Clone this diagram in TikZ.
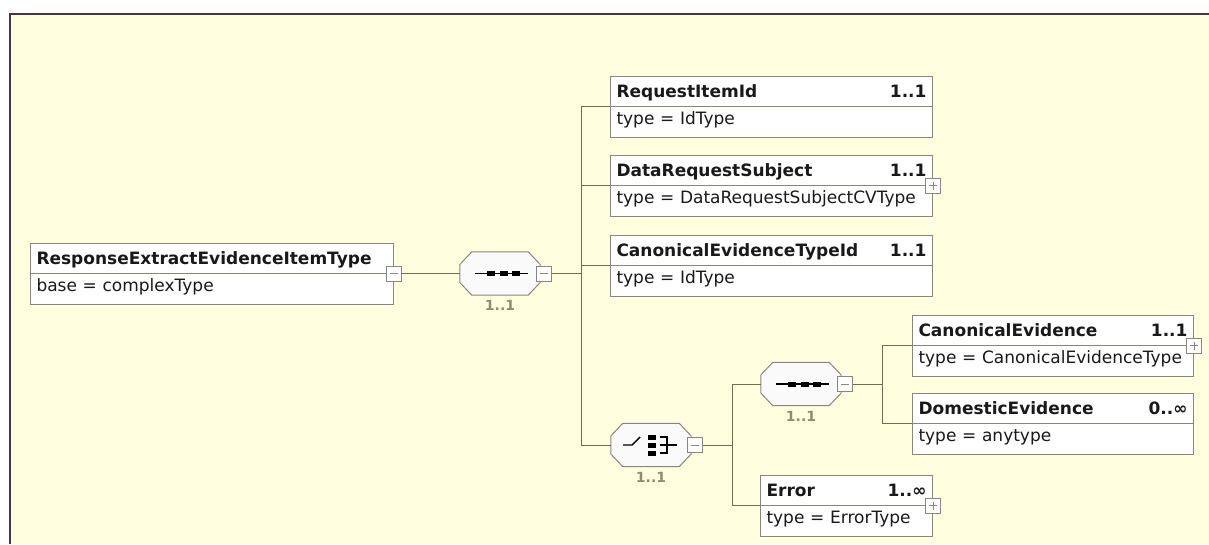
\documentclass[tikz,border=0pt]{standalone}
\usepackage{fontspec}
\setmainfont{DejaVu Sans}
\usetikzlibrary{positioning,shapes.multipart,calc}

\definecolor{bgyel}{RGB}{255,255,224}
\definecolor{framec}{RGB}{72,52,72}
\definecolor{boxline}{RGB}{135,135,125}
\definecolor{connc}{RGB}{110,110,85}
\definecolor{multc}{RGB}{140,140,112}
\definecolor{inkc}{RGB}{25,25,25}

\newcommand{\hdr}[2]{\makebox[\linewidth][l]{\rule[-9pt]{0pt}{29pt}\bfseries #1\hfill #2}}
\newcommand{\typ}[1]{\rule[-13pt]{0pt}{30pt}#1}

\begin{document}
\begin{tikzpicture}[x=1pt, y=-1pt,
    elem/.style={rectangle split, rectangle split parts=2, draw=boxline,
      fill=white, line width=1pt, inner xsep=6pt, inner ysep=0pt,
      anchor=north west, align=left, text=inkc,
      font=\fontsize{17}{19}\selectfont},
    octa/.style={minimum width=80pt, minimum height=43pt, inner sep=0pt},
    octline/.style={draw=boxline, fill=white!96!gray, line width=1pt},
    btn/.style={draw=boxline, fill=white, line width=1pt, minimum size=15pt,
      inner sep=0pt},
    minusbtn/.style={btn, path picture={
      \draw[boxline, line width=1pt] ([xshift=-4pt]path picture bounding box.center)
        -- ([xshift=4pt]path picture bounding box.center);}},
    plusbtn/.style={btn, path picture={
      \draw[boxline, line width=1pt] ([xshift=-4pt]path picture bounding box.center)
        -- ([xshift=4pt]path picture bounding box.center)
        ([yshift=-4pt]path picture bounding box.center)
        -- ([yshift=4pt]path picture bounding box.center);}},
    mult/.style={text=multc, font=\fontsize{14}{16}\selectfont\bfseries, inner sep=1pt},
    conn/.style={draw=connc, line width=1pt},
    icon/.style={line width=1.4pt, draw=black}
  ]
  \useasboundingbox (0,0) rectangle (1209,544);
  % panel
  \fill[bgyel] (10,14) rectangle (1209,544);
  \draw[framec, line width=2.5pt] (10,544) -- (10,14) -- (1209,14);

  % element boxes
  \node[elem, text width=351pt] (root) at (30,243)
    {\hdr{ResponseExtractEvidenceItemType}{}\nodepart{two}\typ{base = complexType}};
  \node[elem, text width=310pt] (rid) at (610,76)
    {\hdr{RequestItemId}{1..1}\nodepart{two}\typ{type = IdType}};
  \node[elem, text width=310pt] (drs) at (610,155)
    {\hdr{DataRequestSubject}{1..1}\nodepart{two}\typ{type = DataRequestSubjectCVType}};
  \node[elem, text width=310pt] (cetid) at (610,235)
    {\hdr{CanonicalEvidenceTypeId}{1..1}\nodepart{two}\typ{type = IdType}};
  \node[elem, text width=269pt] (canev) at (912,315)
    {\hdr{CanonicalEvidence}{1..1}\nodepart{two}\typ{type = CanonicalEvidenceType}};
  \node[elem, text width=269pt] (domev) at (912,393)
    {\hdr{DomesticEvidence}{0..∞}\nodepart{two}\typ{type = anytype}};
  \node[elem, text width=160pt] (err) at (760,475)
    {\hdr{Error}{1..∞}\nodepart{two}\typ{type = ErrorType}};

  % compositors
  \node[octa] (seqA) at ($(root.text split east)+(106,0)$) {};
  \node[octa] (choA) at (651,445) {};
  \node[octa] (seqB) at (801,384) {};
  \foreach \s in {seqA,choA,seqB}
    \draw[octline] ($(\s.north west)+(12,0)$) -- ($(\s.north east)+(-12,0)$)
      -- ($(\s.east)+(0,-9)$) -- ($(\s.east)+(0,9)$)
      -- ($(\s.south east)+(-12,0)$) -- ($(\s.south west)+(12,0)$)
      -- ($(\s.west)+(0,9)$) -- ($(\s.west)+(0,-9)$) -- cycle;
  \node[mult, below=4pt of seqA] (seqAmult) {1..1};
  \node[mult, below=4pt of choA] (choAmult) {1..1};
  \node[mult, below=4pt of seqB] (seqBmult) {1..1};

  % buttons
  \node[minusbtn] (rootbtn) at (root.text split east) {};
  \node[plusbtn] (drsbtn) at (drs.text split east) {};
  \node[plusbtn] (canevbtn) at (canev.text split east) {};
  \node[plusbtn] (errbtn) at (err.text split east) {};
  \node[minusbtn, right=-4pt of seqA] (seqAbtn) {};
  \node[minusbtn, right=-4pt of choA] (choAbtn) {};
  \node[minusbtn, right=-4pt of seqB] (seqBbtn) {};

  % icons
  \foreach \s in {seqA,seqB}{
    \begin{scope}[shift={(\s.center)}]
      \draw[icon] (-25,0) -- (28,0);
      \foreach \dx in {-9,3.5,16}
        \fill (\dx-4,-2.5) rectangle (\dx+4,2.5);
    \end{scope}
  }
  \begin{scope}[shift={(choA.center)}]
    \draw[icon] (-28,0) -- (-19,0) -- (-11,-8);
    \foreach \dy in {-8,0,8}
      \fill (-3,\dy-2.5) rectangle (5,\dy+2.5);
    \draw[icon] (9,-8) -- (16,-8) -- (16,8) -- (9,8) (9,0) -- (26,0);
  \end{scope}

  % connectors
  \draw[conn] (rootbtn.east) -- (seqA.west);
  \coordinate (busA) at ($(seqAbtn.east)+(29,0)$);
  \draw[conn] (seqAbtn.east) -- (busA);
  \foreach \n in {rid,drs,cetid}
    \draw[conn] (busA) |- (\n.text split west);
  \draw[conn] (busA) |- (choA.west);
  \coordinate (busB) at ($(choAbtn.east)+(29,0)$);
  \draw[conn] (choAbtn.east) -- (busB);
  \draw[conn] (busB) |- (seqB.west);
  \draw[conn] (busB) |- (err.text split west);
  \coordinate (busC) at ($(seqBbtn.east)+(29,0)$);
  \draw[conn] (seqBbtn.east) -- (busC);
  \draw[conn] (busC) |- (canev.text split west);
  \draw[conn] (busC) |- (domev.text split west);
\end{tikzpicture}
\end{document}
